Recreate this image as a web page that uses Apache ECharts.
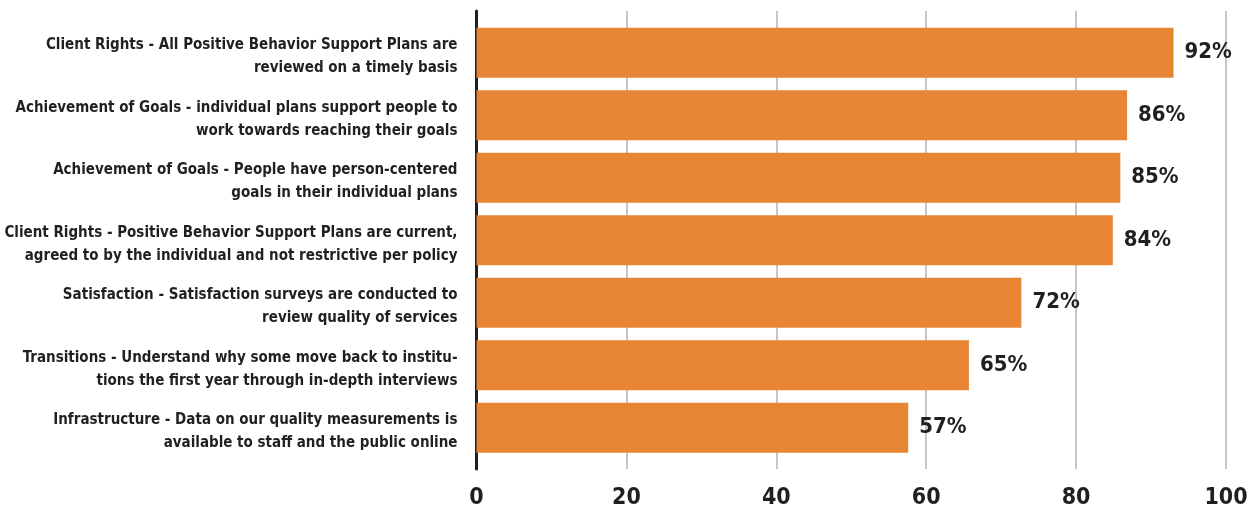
<!DOCTYPE html>
<html>
<head>
<meta charset="utf-8">
<script src="https://cdn.jsdelivr.net/npm/echarts@6/dist/echarts.min.js"></script>
<style>
html,body{margin:0;padding:0;background:#fff;}
#chart{width:1255px;height:508px;}
</style>
</head>
<body>
<div id="chart"></div>
<script>
const categories = [
  "Client Rights - All Positive Behavior Support Plans are\nreviewed on a timely basis",
  "Achievement of Goals - individual plans support people to\nwork towards reaching their goals",
  "Achievement of Goals - People have person-centered\ngoals in their individual plans",
  "Client Rights - Positive Behavior Support Plans are current,\nagreed to by the individual and not restrictive per policy",
  "Satisfaction - Satisfaction surveys are conducted to\nreview quality of services",
  "Transitions - Understand why some move back to institu-\ntions the first year through in-depth interviews",
  "Infrastructure - Data on our quality measurements is\navailable to staff and the public online"
];
const values = [93.0, 86.8, 85.9, 84.9, 72.7, 65.7, 57.6];
const valueLabels = ["92%", "86%", "85%", "84%", "72%", "65%", "57%"];
const xTicks = [0, 20, 40, 60, 80, 100];

const FONT = '"Liberation Sans Narrow", "DejaVu Sans Condensed", "Liberation Sans", sans-serif';
const DARK = '#231f20';

const chart = echarts.init(document.getElementById('chart'), null, {renderer: 'canvas'});
const hiddenX = (gi) => ({
  gridIndex: gi, type: 'value', min: xTicks[0], max: xTicks[xTicks.length - 1], interval: 20,
  axisLine: {show: false}, axisTick: {show: false}, axisLabel: {show: false}, splitLine: {show: false}
});
chart.setOption({
  animation: false,
  backgroundColor: '#ffffff',
  grid: [
    {left: 476.5, right: 29, top: 21.5, height: 437.5, containLabel: false, outerBoundsMode: 'none'},
    {left: 476.5, right: 29, top: 11, height: 458, containLabel: false, outerBoundsMode: 'none'},
    {left: 476.5, right: 29, top: 25.5, height: 437.5, containLabel: false, outerBoundsMode: 'none'}
  ],
  xAxis: [
    hiddenX(0),
    {
      gridIndex: 1, type: 'value', min: xTicks[0], max: xTicks[xTicks.length - 1], interval: 20,
      axisLine: {show: false}, axisTick: {show: false},
      axisLabel: {show: true, margin: 18, fontFamily: FONT, fontWeight: 'bold', fontSize: 23, color: DARK,
        formatter: v => xTicks.includes(v) ? String(v) : ''},
      splitLine: {show: true, lineStyle: {color: '#b3b3b3', width: 1.5}}
    },
    hiddenX(2)
  ],
  yAxis: [
    {
      gridIndex: 0, type: 'category', data: categories, inverse: true,
      axisLine: {show: false}, axisTick: {show: false}, axisLabel: {show: false}
    },
    {
      gridIndex: 1, type: 'value', min: 0, max: 1,
      axisLine: {show: true, onZero: false, lineStyle: {color: DARK, width: 3}},
      axisTick: {show: false}, axisLabel: {show: false}, splitLine: {show: false}
    },
    {
      gridIndex: 2, type: 'category', data: categories, inverse: true,
      axisLine: {show: false}, axisTick: {show: false},
      axisLabel: {show: true, margin: 19, fontFamily: FONT, fontWeight: 'bold', fontSize: 15, lineHeight: 23,
        color: DARK, align: 'right'}
    }
  ],
  series: [
    {
      type: 'bar', xAxisIndex: 0, yAxisIndex: 0, data: values, barWidth: 50, z: 3,
      itemStyle: {color: '#e88534'},
      label: {
        show: true, position: 'right', distance: 11,
        fontFamily: FONT, fontWeight: 'bold', fontSize: 22, color: DARK,
        formatter: p => valueLabels[p.dataIndex]
      }
    }
  ]
});
</script>
</body>
</html>
